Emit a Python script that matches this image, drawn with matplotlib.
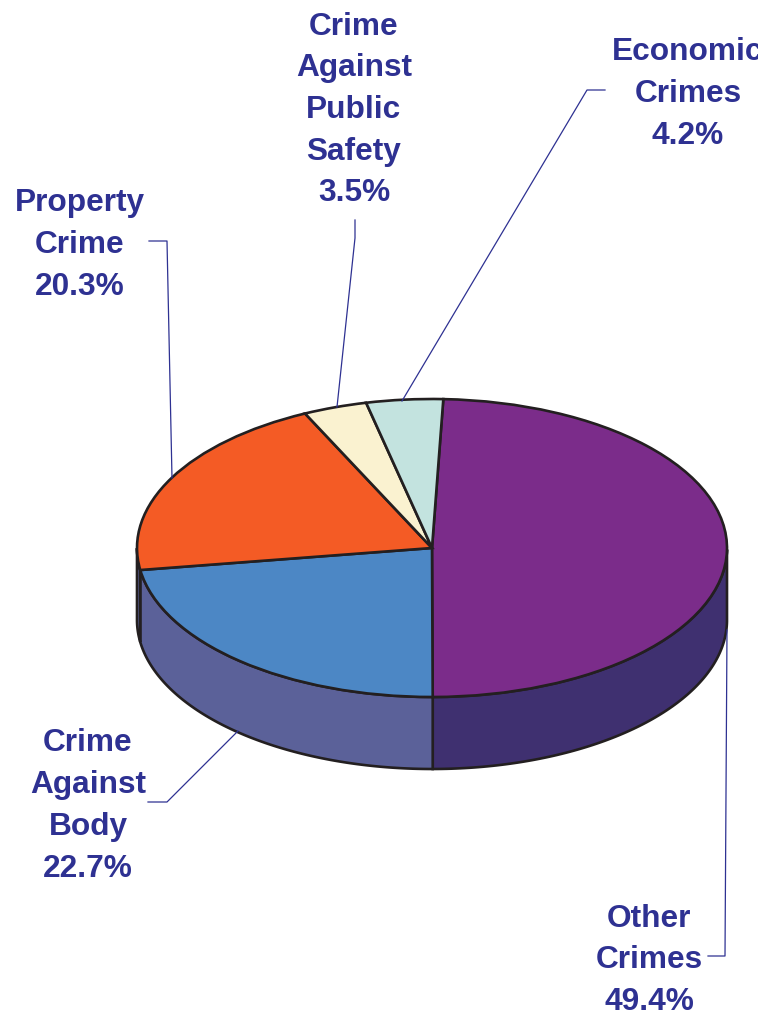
import numpy as np
import matplotlib
matplotlib.use("Agg")
import matplotlib.pyplot as plt

# Datos
labels = ["Other\nCrimes", "Crime\nAgainst\nBody", "Property\nCrime",
          "Crime\nAgainst\nPublic\nSafety", "Economic\nCrimes"]
shares = [49.4, 22.7, 20.3, 3.5, 4.2]

colors = ["#7B2C8A", "#4C87C5", "#F45B25", "#FAF2D0", "#C3E3DF"]
side_colors = ["#3F3070", "#5B6199", "#5B6199", "#5B6199", "#5B6199"]

# Posiciones en pixeles de la imagen
W, H = 758, 1015
cx, cy, rx, ry, depth = 432, 548, 295, 149, 72
start = 87.8
label_x = [649, 88, 79.5, 354, 688]
label_y = [960.5, 806, 245, 110, 94]
line_h = 41.7
leaders_x = [[708, 725, 727], [148, 167, 238], [149, 167, 172], [355, 355, 337], [605, 587, 402]]
leaders_y = [[956, 956, 630], [802, 802, 731], [241, 241, 478], [220, 238, 407], [90, 90, 401]]

ink = "#231F20"
blue_text = "#2E3192"

fig = plt.figure(figsize=(W / 100, H / 100), dpi=100)

# Ejes de la torta: una unidad = rx en x, ry en y
ax = fig.add_axes([0, 0, 1, 1])
ax.pie(shares, colors=colors, startangle=start, counterclock=False, center=(0, 0), radius=1,
       wedgeprops=dict(edgecolor=ink, linewidth=1.9, zorder=3))
ax.set_aspect("auto")
ax.set_xlim(-cx / rx, (W - cx) / rx)
ax.set_ylim((cy - H) / ry, cy / ry)
ax.axis("off")

# Cara lateral
d = depth / ry
fractions = np.array(shares) / sum(shares)
a_end = start - np.cumsum(fractions) * 360
a_start = np.concatenate([[start], a_end[:-1]])
for a0, a1, col in zip(a_start, a_end, side_colors):
    t = np.radians(np.linspace(a0, a1, 200))
    t = t[np.sin(t) <= 0]
    if len(t) < 2:
        continue
    xs = np.concatenate([np.cos(t), np.cos(t[::-1])])
    ys = np.concatenate([np.sin(t), np.sin(t[::-1]) - d])
    ax.fill(xs, ys, facecolor=col, edgecolor=ink, linewidth=1.9, zorder=1)

# Etiquetas y lineas guia (pixeles)
over = fig.add_axes([0, 0, 1, 1], facecolor="none")
over.set_xlim(0, W)
over.set_ylim(H, 0)
over.axis("off")
for lab, share, x, y, lx, ly in zip(labels, shares, label_x, label_y, leaders_x, leaders_y):
    over.plot(lx, ly, color=blue_text, linewidth=0.9)
    lines = (lab + "\n%.1f%%" % share).split("\n")
    y0 = y - line_h * (len(lines) - 1) / 2
    for i, s in enumerate(lines):
        over.text(x, y0 + i * line_h, s, ha="center", va="center", color=blue_text,
                  fontsize=22.8, fontweight="bold", family="Liberation Sans")

fig.savefig("out.png", dpi=100)
